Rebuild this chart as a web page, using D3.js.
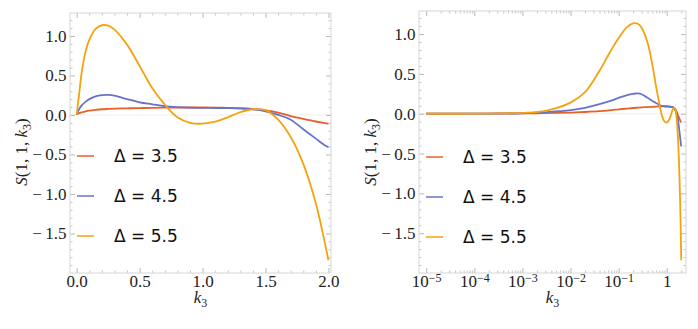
<!DOCTYPE html>
<html>
<head>
<meta charset="utf-8">
<script src="https://cdn.jsdelivr.net/npm/d3@7"></script>
<style>
  body { margin: 0; background: #fff; }
  svg { display: block; }
  .frame { fill: none; stroke: #d6d6d6; stroke-width: 1; }
  .lab { font-family: "Liberation Serif", serif; fill: #222; }
  .leg { font-family: "DejaVu Sans", sans-serif; font-size: 17px; fill: #111; }
</style>
</head>
<body>
<div class="canvas"></div>
<script>
// values
const k3 = [1e-5, 1e-4, 1e-3, 0.003, 0.01, 0.02, 0.04, 0.07, 0.1, 0.15, 0.2, 0.25, 0.3, 0.4, 0.5,
            0.6, 0.7, 0.8, 0.9, 1.0, 1.1, 1.2, 1.3, 1.4, 1.5, 1.6, 1.7, 1.8, 1.9, 1.95, 2.0];
const s35 = [0, 0.001, 0.004, 0.008, 0.015, 0.022, 0.032, 0.045, 0.055, 0.065, 0.072, 0.076, 0.079, 0.084, 0.087,
             0.09, 0.092, 0.093, 0.094, 0.094, 0.093, 0.09, 0.085, 0.075, 0.058, 0.03, -0.015, -0.05, -0.083, -0.097, -0.11];
const s45 = [0, 0.001, 0.006, 0.02, 0.045, 0.075, 0.12, 0.165, 0.2, 0.235, 0.25, 0.255, 0.245, 0.2, 0.16,
             0.135, 0.11, 0.098, 0.092, 0.09, 0.088, 0.086, 0.082, 0.072, 0.045, 0.0, -0.06, -0.18, -0.30, -0.36, -0.41];
const s55 = [0, 0.001, 0.012, 0.037, 0.14, 0.27, 0.54, 0.80, 0.95, 1.09, 1.135, 1.13, 1.08, 0.89, 0.62,
             0.34, 0.13, -0.03, -0.10, -0.11, -0.085, -0.03, 0.035, 0.072, 0.06, -0.06, -0.28, -0.62, -1.12, -1.46, -1.84];
const deltas = ['3.5', '4.5', '5.5'];
const colors = ['#e8602a', '#6673cc', '#f4a30c'];
const yTicks = [1.0, 0.5, 0, -0.5, -1.0, -1.5];
const linTicks = [0, 0.5, 1, 1.5, 2];
const logTicks = [1e-5, 1e-4, 1e-3, 1e-2, 1e-1, 1];

const series = [s35, s45, s55];
const width = 698, height = 329;

const svg = d3.select('.canvas')
    .append('svg')
    .attr('width', width)
    .attr('height', height);

let fmtY = d => d3.format('.1f')(Math.abs(d)).replace(/^/, d < 0 ? '\u2212\u2009' : '');

let drawPanel = (p) => {
    const g = svg.append('g');
    const x = p.log ? d3.scaleLog() : d3.scaleLinear();
    x.domain(p.xDom).range([p.left, p.right]);
    const y = d3.scaleLinear().domain([-2.0, 1.29]).range([p.bottom, p.top]);

    const clipId = 'clip' + p.left;
    svg.append('clipPath').attr('id', clipId)
        .append('rect')
        .attr('x', p.left).attr('y', p.top)
        .attr('width', p.right - p.left).attr('height', p.bottom - p.top);

    // zero line
    g.append('line')
        .attr('x1', p.left).attr('x2', p.right)
        .attr('y1', y(0)).attr('y2', y(0))
        .attr('stroke', '#efefef');

    // minor ticks
    let minorX;
    if (p.log) {
        minorX = [];
        logTicks.forEach(t => { for (let m = 2; m < 10; m++) if (t * m <= 2.5) minorX.push(t * m); });
    } else {
        minorX = d3.range(0, 2.01, 0.1).filter(v => Math.abs(v * 2 - Math.round(v * 2)) > 1e-6);
    }
    const minorY = d3.range(-2.0, 1.3, 0.1).filter(v => Math.abs(v * 2 - Math.round(v * 2)) > 1e-6);

    const axes = [
        [d3.axisBottom, x, p.bottom, true],
        [d3.axisTop, x, p.top, true],
        [d3.axisLeft, y, p.left, false],
        [d3.axisRight, y, p.right, false]
    ];
    axes.forEach(([ax, sc, pos, horiz], i) => {
        const tr = horiz ? `translate(0,${pos})` : `translate(${pos},0)`;
        const minor = horiz ? minorX : minorY;
        g.append('g').attr('transform', tr)
            .call(ax(sc).tickValues(minor).tickSize(-2.5).tickFormat(''))
            .call(s => s.select('.domain').remove())
            .call(s => s.selectAll('.tick line').attr('stroke', '#c4c4c4'));
        const major = g.append('g').attr('transform', tr)
            .call(ax(sc).tickValues(horiz ? (p.log ? logTicks : linTicks) : yTicks)
                .tickSize(-5)
                .tickPadding(horiz ? 2 : 3.5)
                .tickFormat(i === 0 ? (p.log ? '' : d3.format('.1f')) : (i === 2 ? fmtY : '')))
            .call(s => s.select('.domain').remove())
            .call(s => s.selectAll('.tick line').attr('stroke', '#b8b8b8'))
            .call(s => s.selectAll('.tick text')
                .style('font-family', '"Liberation Serif", "Times New Roman", serif')
                .style('font-size', '17px')
                .style('fill', '#222'));
        if (i === 0 && p.log) {
            major.selectAll('.tick text').each(function (d) {
                const t = d3.select(this);
                const e = Math.round(Math.log10(d));
                if (e === 0) { t.text('1'); return; }
                t.text('10');
                t.append('tspan').attr('dy', '-0.45em').style('font-size', '12px')
                    .text('\u2212' + Math.abs(e));
            });
        }
    });

    g.append('rect').attr('class', 'frame')
        .attr('x', p.left).attr('y', p.top)
        .attr('width', p.right - p.left).attr('height', p.bottom - p.top);

    const line = d3.line()
        .x((d, i) => x(k3[i]))
        .y(d => y(d))
        .curve(d3.curveCatmullRom.alpha(0.5));

    series.forEach((s, i) => {
        g.append('path')
            .attr('d', line(s))
            .attr('fill', 'none')
            .attr('stroke', colors[i])
            .attr('stroke-width', 1.8)
            .attr('clip-path', `url(#${clipId})`);
    });

    // legend
    deltas.forEach((d, i) => {
        const ly = p.legY + i * 40;
        g.append('line')
            .attr('x1', p.legX).attr('x2', p.legX + 17)
            .attr('y1', ly).attr('y2', ly)
            .attr('stroke', colors[i]).attr('stroke-width', 1.5);
        g.append('text').attr('class', 'leg')
            .attr('x', p.legX + 37).attr('y', ly + 6)
            .text(`\u0394 = ${d}`);
    });

    // axis labels
    const xl = g.append('text').attr('class', 'lab')
        .attr('x', (p.left + p.right) / 2).attr('y', 303)
        .attr('text-anchor', 'middle').style('font-size', '17px');
    xl.append('tspan').style('font-style', 'italic').text('k');
    xl.append('tspan').attr('dy', 4).style('font-size', '12px').text('3');

    const yl = g.append('text').attr('class', 'lab')
        .attr('transform', `translate(${p.left - 43},152) rotate(-90)`)
        .attr('text-anchor', 'middle').style('font-size', '17px');
    yl.append('tspan').style('font-style', 'italic').text('S');
    yl.append('tspan').text('(1, 1, ');
    yl.append('tspan').style('font-style', 'italic').text('k');
    yl.append('tspan').attr('dy', 4).style('font-size', '12px').text('3');
    yl.append('tspan').attr('dy', -4).text(')');
};

drawPanel({ log: false, xDom: [-0.053, 2.02], left: 70, right: 331, top: 13, bottom: 273, legX: 77, legY: 156 });
drawPanel({ log: true, xDom: [Math.pow(10, -5.15), Math.pow(10, 0.40)], left: 419, right: 686, top: 11, bottom: 273, legX: 426, legY: 157 });
</script>
</body>
</html>
